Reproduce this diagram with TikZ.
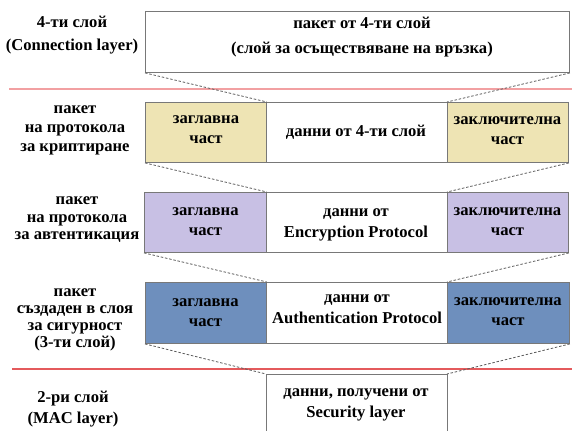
\documentclass[tikz,border=0pt]{standalone}
\usepackage{fontspec}
\setmainfont{Liberation Serif}
\begin{document}
\begin{tikzpicture}[x=1bp,y=-1bp,
  every node/.style={font=\fontsize{16.6bp}{20bp}\selectfont\bfseries, align=center, inner sep=0pt},
  part/.style={draw=boxgray, line width=0.9bp, rectangle, anchor=north west},
  link/.style={draw=linkgray, line width=0.8bp, dash pattern=on 2.5bp off 1.8bp},
  tight/.style={font=\fontsize{16.6bp}{#1}\selectfont\bfseries}]
\definecolor{boxgray}{RGB}{120,120,120}
\definecolor{linkgray}{RGB}{90,90,90}
\definecolor{encfill}{RGB}{238,228,180}
\definecolor{authfill}{RGB}{200,192,228}
\definecolor{secfill}{RGB}{110,143,189}
\definecolor{sepA}{RGB}{242,160,162}
\definecolor{sepB}{RGB}{228,90,92}
\useasboundingbox (0,0) rectangle (572,430);

% layer separators
\draw[sepA, line width=1.2bp] (9,89) -- (572,89);
\draw[sepB, line width=1.2bp] (12,369) -- (572,369);

% layer 4 packet
\node[part, minimum width=424bp, minimum height=61bp] (top) at (145,11) {};
\node[tight=25bp] (toptxt) at (362,37.5) {пакет от 4-ти слой\\(слой за осъществяване на връзка)};
\node[tight=23bp] (l4) at (72,35) {4-ти слой\\(Connection layer)};

% encryption protocol packet
\node[part, fill=encfill, minimum width=121bp, minimum height=60bp] (h1) at (145,102) {};
\node[part, minimum width=181bp, minimum height=60bp] (d1) at (266,102) {};
\node[part, fill=encfill, minimum width=121bp, minimum height=60bp] (t1) at (447,102) {};
\node (h1txt) at (206,130) {заглавна\\част};
\node (d1txt) at (356,132) {данни от 4-ти слой};
\node (t1txt) at (507.5,131) {заключителна\\част};
\node[tight=19bp] (l1) at (75,130.5) {пакет\\на протокола\\за криптиране};

% authentication protocol packet
\node[part, fill=authfill, minimum width=122bp, minimum height=60bp] (h2) at (144,192) {};
\node[part, minimum width=181bp, minimum height=60bp] (d2) at (266,192) {};
\node[part, fill=authfill, minimum width=121bp, minimum height=60bp] (t2) at (447,192) {};
\node (h2txt) at (205.5,222) {заглавна\\част};
\node[tight=21bp] (d2txt) at (356,224.5) {данни от\\Encryption Protocol};
\node (t2txt) at (507.5,222) {заключителна\\част};
\node[tight=17.5bp] (l2) at (77,220) {пакет\\на протокола\\за автентикация};

% security layer packet
\node[part, fill=secfill, minimum width=121bp, minimum height=61bp] (h3) at (145,282) {};
\node[part, minimum width=181bp, minimum height=61bp] (d3) at (266,282) {};
\node[part, fill=secfill, minimum width=122bp, minimum height=61bp] (t3) at (447,282) {};
\node (h3txt) at (205.5,313) {заглавна\\част};
\node[tight=21bp] (d3txt) at (357,309.5) {данни от\\Authentication Protocol};
\node (t3txt) at (508,312) {заключителна\\част};
\node[tight=17bp] (l3) at (75,319.5) {пакет\\създаден в слоя\\за сигурност\\(3-ти слой)};

% MAC layer frame (runs past the lower edge)
\coordinate (mtl) at (266,374);
\coordinate (mtr) at (447,374);
\coordinate (mbl) at (266,431);
\coordinate (mbr) at (447,431);
\draw[draw=boxgray, line width=0.9bp] (mbl) -- (mtl) -- (mtr) -- (mbr);
\node[tight=21bp] (mtxt) at (356,404.5) {данни, получени от\\Security layer};
\node[tight=21bp] (l5) at (73,409.5) {2-ри слой\\(MAC layer)};

% encapsulation guides
\draw[link] (top.south west) -- (h1.north east);
\draw[link] (top.south east) -- (t1.north west);
\draw[link] (h1.south west) -- (h2.north east);
\draw[link] (t1.south east) -- (t2.north west);
\draw[link] (h2.south west) -- (h3.north east);
\draw[link] (t2.south east) -- (t3.north west);
\draw[link] (h3.south west) -- (mtl);
\draw[link] (t3.south east) -- (mtr);
\end{tikzpicture}
\end{document}
